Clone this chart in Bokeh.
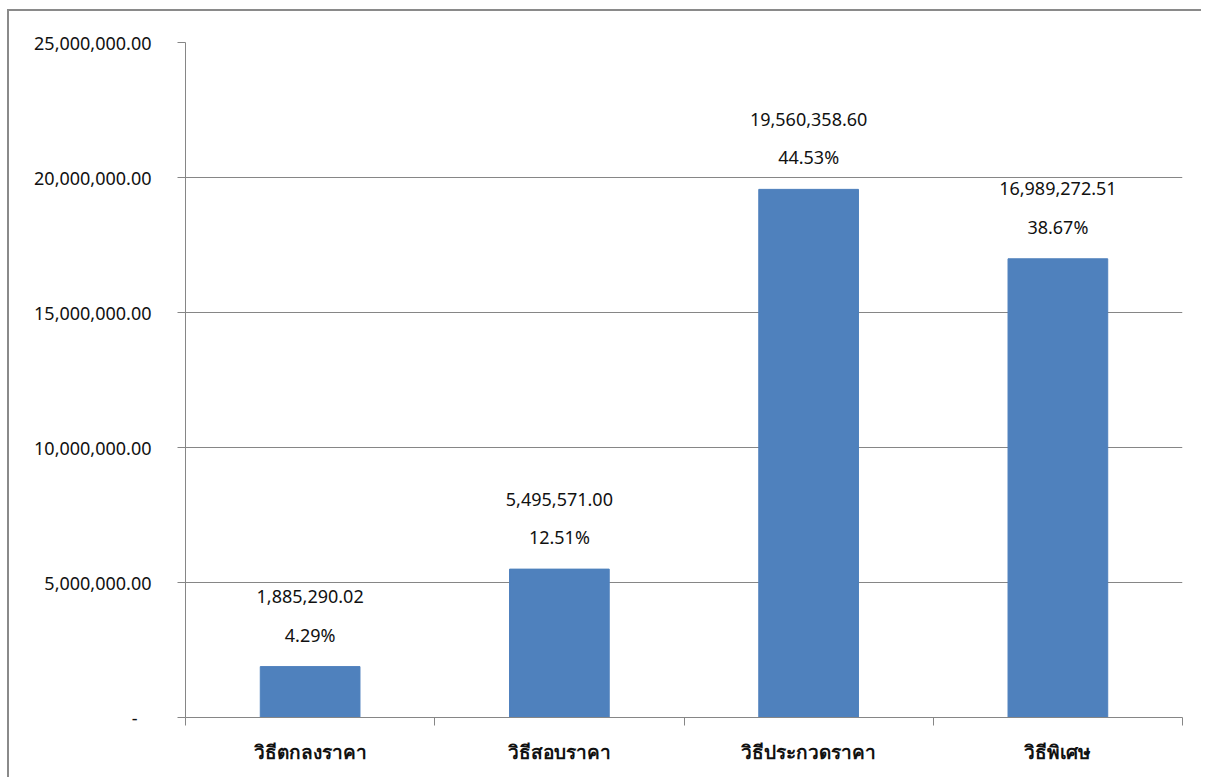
from bokeh.plotting import figure
from bokeh.models import ColumnDataSource, FixedTicker, NumeralTickFormatter, Range1d
from bokeh.core.properties import value
from bokeh.embed import file_html
from bokeh.resources import INLINE

categories = ["วิธีตกลงราคา", "วิธีสอบราคา", "วิธีประกวดราคา", "วิธีพิเศษ"]
amounts = [1885290.02, 5495571.00, 19560358.60, 16989272.51]
percents = ["4.29%", "12.51%", "44.53%", "38.67%"]
y_ticks = [0, 5000000, 10000000, 15000000, 20000000, 25000000]

n = len(categories)
centers = [i + 0.5 for i in range(n)]
src = ColumnDataSource(dict(
    x=centers,
    top=amounts,
    amount_label=[f"{a:,.2f}" for a in amounts],
    pct=percents,
))

GRAY = "#868686"
FONT = "Noto Sans"
TXT = "#111111"

p = figure(width=1194, height=768, output_backend="svg", toolbar_location=None,
           x_range=Range1d(0, n), y_range=Range1d(0, 25000000),
           min_border_left=176, min_border_right=21, min_border_top=31, min_border_bottom=62)
p.styles = {"margin-left": "7px", "margin-top": "9px",
            "border-left": "2px solid #8a8a8a", "border-top": "2px solid #8a8a8a"}
p.outline_line_color = None
p.background_fill_color = "white"
p.border_fill_color = "white"

p.vbar(x="x", top="top", width=0.4, bottom=0, source=src,
       fill_color="#4F81BD", line_color="#4F81BD")

p.text(x="x", y="top", text="pct", source=src, y_offset=-32,
       text_align="center", text_baseline="middle",
       text_font=value(FONT), text_font_size="18px", text_color=TXT)
p.text(x="x", y="top", text="amount_label", source=src, y_offset=-70,
       text_align="center", text_baseline="middle",
       text_font=value(FONT), text_font_size="18px", text_color=TXT)

# y axis
p.yaxis.ticker = FixedTicker(ticks=y_ticks)
p.yaxis.formatter = NumeralTickFormatter(format="0,0.00")
p.yaxis.major_label_overrides = {0: "-\u00a0\u00a0\u00a0"}
p.yaxis.axis_line_color = GRAY
p.yaxis.major_tick_line_color = GRAY
p.yaxis.major_tick_out = 8
p.yaxis.major_tick_in = 0
p.yaxis.minor_tick_line_color = None
p.yaxis.major_label_standoff = 26
p.yaxis.major_label_text_font = FONT
p.yaxis.major_label_text_font_size = "18px"
p.yaxis.major_label_text_color = TXT

p.ygrid.ticker = FixedTicker(ticks=y_ticks)
p.ygrid.grid_line_color = GRAY
p.ygrid.grid_line_width = 1
p.xgrid.grid_line_color = None

# x axis: labels at centers, ticks at boundaries
p.xaxis.ticker = FixedTicker(ticks=centers, minor_ticks=list(range(n + 1)))
p.xaxis.major_label_overrides = {c: cat for c, cat in zip(centers, categories)}
p.xaxis.axis_line_color = GRAY
p.xaxis.major_tick_line_color = None
p.xaxis.major_tick_out = 0
p.xaxis.major_tick_in = 0
p.xaxis.minor_tick_line_color = GRAY
p.xaxis.minor_tick_out = 8
p.xaxis.minor_tick_in = 0
p.xaxis.major_label_standoff = 13
p.xaxis.major_label_text_font = FONT
p.xaxis.major_label_text_font_size = "19px"
p.xaxis.major_label_text_font_style = "bold"
p.xaxis.major_label_text_color = TXT

open("out.html", "w").write(file_html(p, INLINE))
